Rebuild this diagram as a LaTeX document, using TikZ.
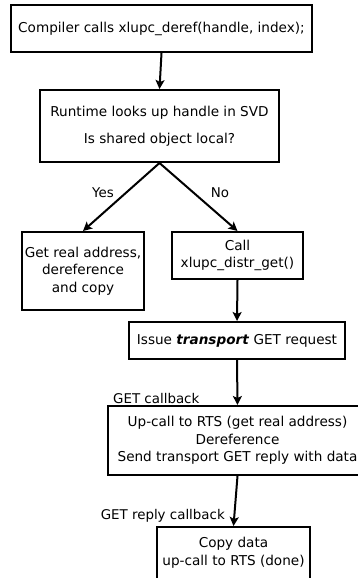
\documentclass[tikz,border=0pt]{standalone}
\usepackage{fontspec}
\setmainfont{DejaVu Sans}
\usetikzlibrary{arrows.meta}
\begin{document}
\begin{tikzpicture}[x=1pt,y=-1pt,
  box/.style={draw, line width=2pt, inner sep=0pt, align=center,
    font=\fontsize{13.6}{17.5}\selectfont},
  lbl/.style={inner sep=0pt, font=\fontsize{13.4}{15}\selectfont},
  flow/.style={line width=2pt, -{Stealth[length=9pt,width=9pt,inset=2pt]}}]
  \useasboundingbox (0,0) rectangle (358,578);
  \clip (0,0) rectangle (358,578);

  \node[box, minimum width=301pt, minimum height=47pt] (compile) at (161.5,28.5)
    {Compiler calls xlupc\_deref(handle, index);};
  \node[box, minimum width=239pt, minimum height=72pt, font=\fontsize{13.6}{27}\selectfont] (lookup) at (159.5,126)
    {Runtime looks up handle in SVD\\Is shared object local?};
  \node[box, minimum width=122pt, minimum height=78pt] (local) at (83,271)
    {Get real address,\\dereference\\and copy};
  \node[box, minimum width=131pt, minimum height=47pt] (distr) at (237.5,255.5)
    {Call\\xlupc\_distr\_get()};
  \node[box, minimum width=216pt, minimum height=37pt] (issue) at (237,340.5)
    {Issue \textbf{\textit{transport}} GET request};
  \node[box, minimum width=259pt, minimum height=69pt] (upcall) at (237.5,440.5)
    {Up-call to RTS (get real address)\\Dereference\\Send transport GET reply with data};
  \node[box, minimum width=153pt, minimum height=76pt] (copy) at (233.5,565)
    {Copy data\\up-call to RTS (done)\\[10pt]};

  \draw[flow] (compile.south) -- (lookup.north);
  \draw[flow] (lookup.south) -- (local.north);
  \draw[flow] (lookup.south) -- (distr.north);
  \draw[flow] (distr.south) -- (issue.north);
  \draw[flow] (issue.south) -- (upcall.north);
  \draw[flow] (upcall.south) -- (copy.north);

  \node[lbl] (yes) at (103,193) {Yes};
  \node[lbl] (no) at (220,193) {No};
  \node[lbl, anchor=west] (getcb) at (113,398) {GET callback};
  \node[lbl, anchor=east] (replycb) at (225,516) {GET reply callback};
\end{tikzpicture}
\end{document}
